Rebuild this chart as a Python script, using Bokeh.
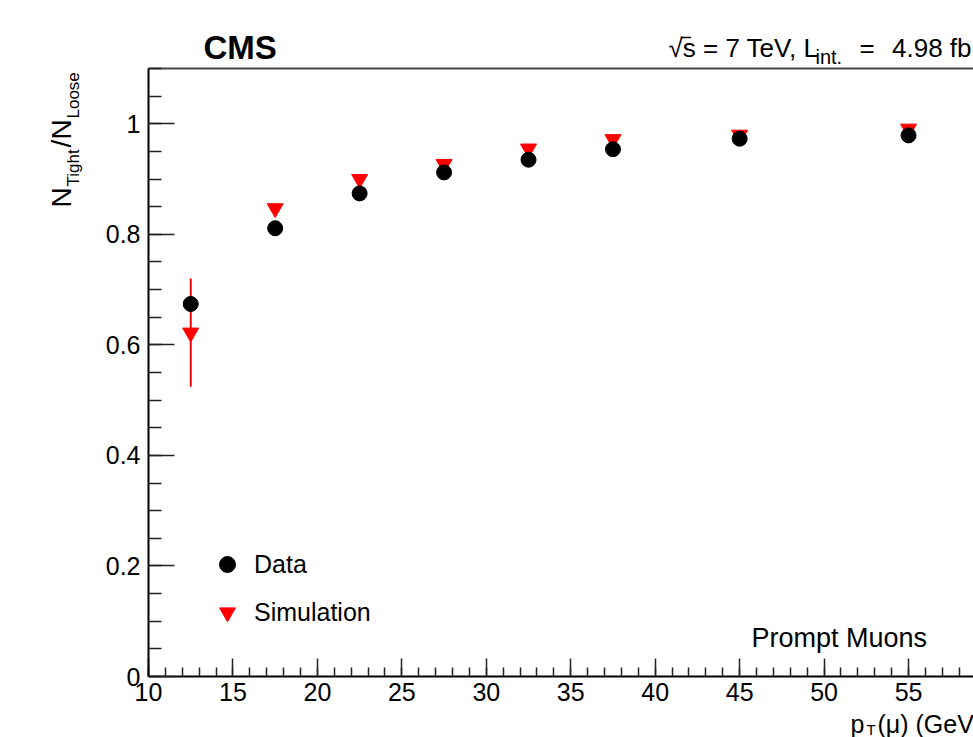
import math
from bokeh.plotting import figure
from bokeh.models import (Range1d, LinearAxis, FixedTicker, Label, Legend, LegendItem,
                          Whisker, ColumnDataSource, CustomJSTickFormatter)
from bokeh.embed import file_html
from bokeh.resources import INLINE

# ---------------- data ----------------
pt_centers = [12.5, 17.5, 22.5, 27.5, 32.5, 37.5, 45.0, 55.0]
data_eff = [0.674, 0.811, 0.874, 0.912, 0.935, 0.954, 0.973, 0.979]
data_err = [0.010, 0.004, 0.003, 0.002, 0.002, 0.002, 0.002, 0.003]
sim_eff = [0.622, 0.847, 0.900, 0.927, 0.955, 0.972, 0.980, 0.991]
sim_err = [0.098, 0.008, 0.005, 0.004, 0.003, 0.003, 0.002, 0.002]

x_major_ticks = [10, 15, 20, 25, 30, 35, 40, 45, 50, 55, 60]
x_minor_ticks = list(range(10, 61))
y_major_ticks = [0.0, 0.2, 0.4, 0.6, 0.8, 1.0]
y_minor_ticks = [round(0.05 * i, 2) for i in range(0, 23)]

FONT = "Liberation Sans"
W, H = 973, 737
# pixel geometry of the axes box in the reference
FL, FT, FB = 148, 68, 676
XPPU = 16.89            # pixels per GeV
YPPU = (FB - FT) / 1.1  # pixels per unit efficiency


def dx(px):
    return 10.0 + (px - FL) / XPPU


def dy(py):
    return (FB - py) / YPPU


X_AX_END = dx(W)

src = ColumnDataSource(dict(
    pt=pt_centers,
    data=data_eff,
    data_lo=[v - e for v, e in zip(data_eff, data_err)],
    data_hi=[v + e for v, e in zip(data_eff, data_err)],
    sim=sim_eff,
    sim_lo=[v - e for v, e in zip(sim_eff, sim_err)],
    sim_hi=[v + e for v, e in zip(sim_eff, sim_err)],
))

# the plotting frame covers the whole canvas; axes sit at fixed data locations
p = figure(width=W, height=H, output_backend="svg", toolbar_location=None,
           x_range=Range1d(dx(0), dx(W)), y_range=Range1d(dy(H), dy(0)),
           min_border=0, min_border_left=0, min_border_right=0,
           min_border_top=0, min_border_bottom=0)
p.outline_line_color = None
p.xgrid.visible = False
p.ygrid.visible = False
p.background_fill_color = "white"
p.border_fill_color = "white"

xa = p.xaxis[0]
xa.fixed_location = 0.0
xa.bounds = (10.0, X_AX_END)
xa.ticker = FixedTicker(ticks=x_major_ticks, minor_ticks=x_minor_ticks)
xa.major_tick_in = 18
xa.major_tick_out = 0
xa.minor_tick_in = 9
xa.minor_tick_out = 0
xa.major_label_standoff = 6

ya = p.yaxis[0]
ya.fixed_location = 10.0
ya.bounds = (0.0, 1.1)
ya.ticker = FixedTicker(ticks=y_major_ticks, minor_ticks=y_minor_ticks)
ya.formatter = CustomJSTickFormatter(code="return tick.toFixed(1).replace(/\\.0$/, '');")
ya.major_tick_in = 26
ya.major_tick_out = 0
ya.minor_tick_in = 13
ya.minor_tick_out = 0
ya.major_label_standoff = 8

for ax in (xa, ya):
    ax.axis_line_width = 2
    ax.axis_line_color = "black"
    ax.major_tick_line_color = "#222222"
    ax.minor_tick_line_color = "#222222"
    ax.major_tick_line_width = 1.5
    ax.minor_tick_line_width = 1.5
    ax.major_label_text_font = FONT
    ax.major_label_text_font_size = "25px"
    ax.major_label_text_color = "black"

top = LinearAxis(fixed_location=1.1, bounds=(10.0, X_AX_END),
                 ticker=FixedTicker(ticks=[]), major_label_text_font_size="0px",
                 axis_line_width=2, axis_line_color="#444444",
                 major_tick_line_color=None, minor_tick_line_color=None)
p.add_layout(top, "above")

# error bars
p.add_layout(Whisker(base="pt", lower="sim_lo", upper="sim_hi", source=src,
                     upper_head=None, lower_head=None, line_color="red", line_width=2))
p.add_layout(Whisker(base="pt", lower="data_lo", upper="data_hi", source=src,
                     upper_head=None, lower_head=None, line_color="black", line_width=2))

sim_r = p.scatter(x="pt", y="sim", source=src, marker="inverted_triangle", size=16,
                  fill_color="red", line_color="red", line_width=1)
data_r = p.scatter(x="pt", y="data", source=src, marker="circle", size=15,
                   fill_color="black", line_color="black", line_width=1)

legend = Legend(items=[LegendItem(label="Data", renderers=[data_r]),
                       LegendItem(label="Simulation", renderers=[sim_r])],
                location=(207, H - 632), glyph_width=40, glyph_height=40, spacing=8,
                padding=0, margin=0, label_standoff=7, border_line_color=None,
                background_fill_alpha=0, label_text_font=FONT,
                label_text_color="black",
                label_text_font_size="25px", label_text_baseline="middle")
p.add_layout(legend)


def lab(px, py, text, size, bold=False, angle=0.0, align="left"):
    p.add_layout(Label(x=dx(px), y=dy(py), text=text, text_font=FONT,
                       text_font_size=f"{size}px",
                       text_font_style="bold" if bold else "normal",
                       text_baseline="alphabetic", text_align=align,
                       angle=angle, text_color="black"))


# header
lab(203, 47, "CMS", 33, bold=True)
lab(668, 47, "\u221As = 7 TeV, L", 26)
lab(681, 47, "\u203e", 26)
lab(815, 56, "int.", 20)
lab(859, 47, "=", 26)
lab(971, 47, "4.98 fb", 26, align="right")

# y title  N_Tight / N_Loose (rotated, reads bottom to top)
r = math.pi / 2
lab(61, 207, "N", 28, angle=r)
lab(73, 186, "Tight", 17, angle=r)
lab(61, 147, "/", 28, angle=r)
lab(61, 139, "N", 28, angle=r)
lab(73, 118, "Loose", 17, angle=r)

# x title p_T(mu) (GeV)
lab(850, 723, "p", 25)
lab(866, 729, "T", 15)
lab(877, 723, "(\u03bc) (GeV)", 25)

# annotation
lab(751, 637, "Prompt Muons", 27)

open("out.html", "w").write(file_html(p, INLINE))
